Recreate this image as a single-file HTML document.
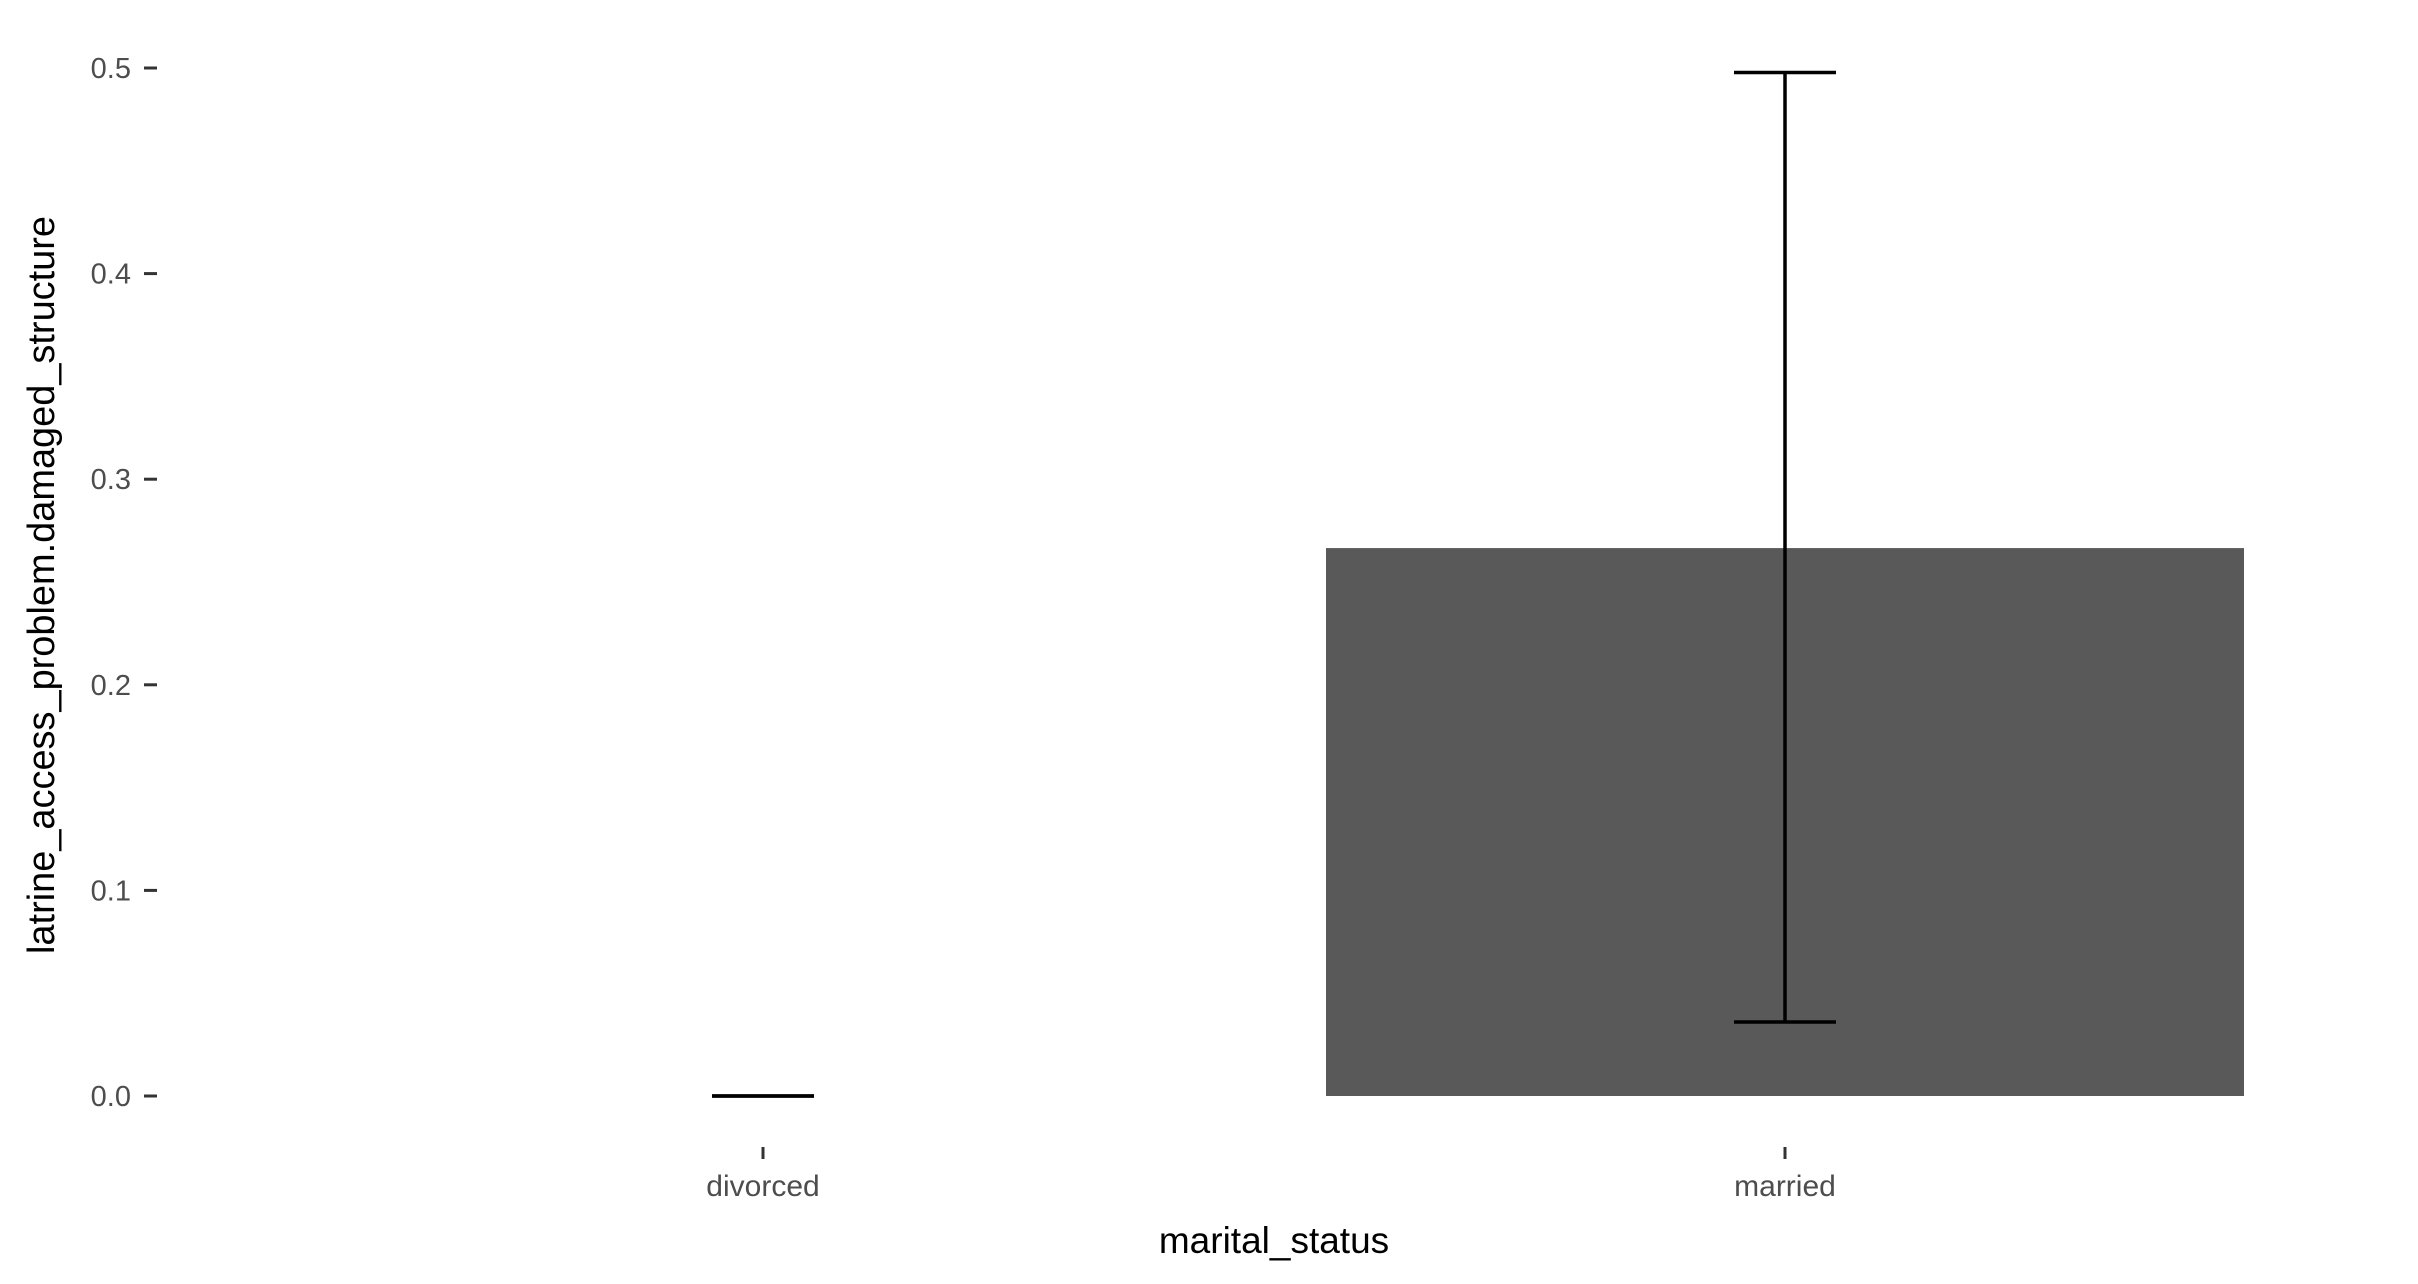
<!DOCTYPE html>
<html><head><meta charset="utf-8"><style>
html,body{margin:0;padding:0;background:#fff;}
svg{display:block;font-family:"Liberation Sans",sans-serif;}
</style></head><body>
<svg id="chart" width="2418" height="1284" viewBox="0 0 2418 1284" xmlns="http://www.w3.org/2000/svg">
<rect width="2418" height="1284" fill="#fff"/>
<g id="yaxis"></g>
<g id="xaxis"></g>
<g id="marks"></g>
<text x="1274" y="1253" font-size="37" text-anchor="middle" fill="#000">marital_status</text>
<text transform="translate(54,585) rotate(-90)" font-size="38" text-anchor="middle" textLength="738" lengthAdjust="spacingAndGlyphs" fill="#000">latrine_access_problem.damaged_structure</text>
</svg>
<script>
const categories = ["divorced", "married"];
const means = [0, 0.2665];
const lower = [0, 0.036];
const upper = [0, 0.4978];
const yTicks = [0, 0.1, 0.2, 0.3, 0.4, 0.5];
const yTickLabels = ["0.0", "0.1", "0.2", "0.3", "0.4", "0.5"];

const NS = "http://www.w3.org/2000/svg";
const y0px = 1096, y5px = 68;
function yScale(v){ return y0px + (y5px - y0px) * (v / 0.5); }
const xFirst = 763, xStep = 1022;
function xScale(i){ return xFirst + i * xStep; }
const bandW = 918;
function mk(tag, attrs, parent){ const e = document.createElementNS(NS, tag); for (const k in attrs) e.setAttribute(k, attrs[k]); parent.appendChild(e); return e; }

const yg = document.getElementById('yaxis');
yTicks.forEach((t, i) => {
  const yy = yScale(t);
  const tk = mk('line', {x1: 144, x2: 157, y1: yy, y2: yy, stroke: '#333', 'stroke-width': 3}, yg);
  
  
  const lb = mk('text', {x: 131, y: yy + 10, 'font-size': 29, 'text-anchor': 'end', fill: '#4d4d4d'}, yg);
  lb.textContent = yTickLabels[i];
  
  
});

const xg = document.getElementById('xaxis');
const mg = document.getElementById('marks');
categories.forEach((c, i) => {
  const cx = xScale(i);
  const tk = mk('line', {x1: cx, x2: cx, y1: 1147, y2: 1159, stroke: '#333', 'stroke-width': 3}, xg);
  
  
  const lb = mk('text', {x: cx, y: 1196, 'font-size': 30, 'text-anchor': 'middle', fill: '#4d4d4d'}, xg);
  lb.textContent = c;
  
  

  const top = yScale(means[i]);
  const bar = mk('rect', {x: cx - bandW/2, y: top, width: bandW, height: Math.max(0, y0px - top), fill: '#595959'}, mg);
  
  

  const eg = mk('g', {stroke: '#000', 'stroke-width': 3.5, fill: 'none'}, mg);
  
  
  const yl = yScale(lower[i]), yu = yScale(upper[i]);
  mk('line', {x1: cx, x2: cx, y1: yu, y2: yl}, eg);
  mk('line', {x1: cx - 51, x2: cx + 51, y1: yu, y2: yu}, eg);
  mk('line', {x1: cx - 51, x2: cx + 51, y1: yl, y2: yl}, eg);
});
</script>
</body></html>
